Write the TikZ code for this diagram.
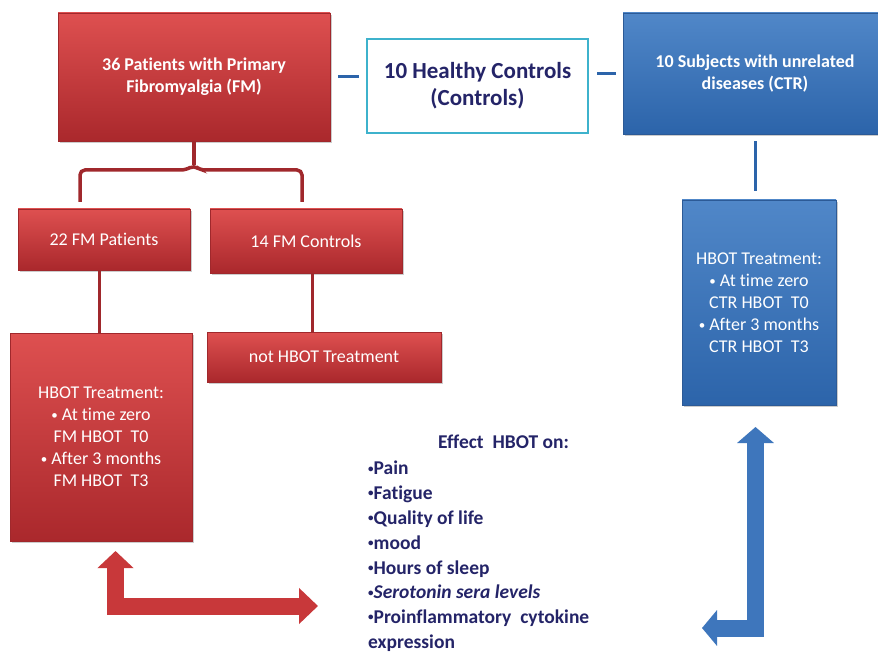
\documentclass[tikz,border=0pt]{standalone}
\usepackage{fontspec}
\setmainfont{Carlito}[Ligatures=NoCommon]
\usetikzlibrary{arrows.meta, shadows, positioning}

\definecolor{fmtop}{RGB}{222,80,80}
\definecolor{fmbot}{RGB}{170,40,44}
\definecolor{fmedge}{RGB}{160,40,44}
\definecolor{fmarrowcol}{RGB}{200,56,58}
\definecolor{ctrtop}{RGB}{80,135,200}
\definecolor{ctrbot}{RGB}{44,100,170}
\definecolor{ctredge}{RGB}{44,90,150}
\definecolor{ctrarrowcol}{RGB}{62,118,188}
\definecolor{hcedge}{RGB}{62,178,204}
\definecolor{navy}{RGB}{36,36,104}

\newcommand{\boxbullet}{{\fontsize{13}{13}\selectfont\raisebox{1.2pt}{\textbullet}}}
\newcommand{\listbullet}{{\fontsize{11}{11}\selectfont\raisebox{2.8pt}{\textbullet}}}

\begin{document}
\begin{tikzpicture}[x=1pt, y=-1pt,
fmbox/.style={rectangle, draw=fmedge, top color=fmtop, bottom color=fmbot, text=white, align=center, inner sep=2pt, font=\fontsize{18}{22}\selectfont, drop shadow={shadow xshift=1.5pt, shadow yshift=-2pt, opacity=0.4}},
ctrbox/.style={fmbox, draw=ctredge, top color=ctrtop, bottom color=ctrbot},
hcbox/.style={rectangle, draw=hcedge, line width=2.5pt, fill=white, text=navy, align=center, font=\fontsize{23}{27}\selectfont\bfseries},
fmline/.style={draw=fmedge, line width=3pt},
ctrline/.style={draw=ctrbot, line width=3pt},
fmarrow/.style={draw=fmarrowcol, line width=17pt, {Triangle[length=17pt,width=35pt]}-{Triangle[length=19pt,width=35pt]}},
ctrarrow/.style={draw=ctrarrowcol, line width=17pt, {Triangle[length=16pt,width=36pt]}-{Triangle[length=15pt,width=35pt]}},
effect/.style={text=navy, inner sep=0pt, font=\fontsize{19.5}{24.8}\selectfont\bfseries},
]
\path[use as bounding box, fill=white] (0,0) rectangle (878,652);

%Nodes
\node[fmbox, font=\fontsize{18}{22}\selectfont\bfseries, minimum width=272pt, minimum height=128pt] (fm) at (194,77) {36 Patients with Primary\\Fibromyalgia (FM)};
\node[hcbox, minimum width=221pt, minimum height=94pt] (hc) at (477.5,86) {10 Healthy Controls\\(Controls)};
\node[ctrbox, font=\fontsize{18}{22}\selectfont\bfseries, minimum width=264pt, minimum height=121pt] (ctr) at (755,73.5) {10 Subjects with unrelated\\diseases (CTR)};

\node[fmbox, minimum width=172pt, minimum height=61pt] (fmpat) at (104,239.5) {22 FM Patients};
\node[fmbox, minimum width=192pt, minimum height=64pt] (fmctl) at (306,241) {14 FM Controls};

\node[fmbox, minimum width=182pt, minimum height=208pt] (fmhbot) at (101,437) {HBOT Treatment:\\\boxbullet\ At time zero\\FM HBOT\ \ T0\\\boxbullet\ After 3 months\\FM HBOT\ \ T3};
\node[fmbox, minimum width=234pt, minimum height=50pt] (nohbot) at (324,357) {not HBOT Treatment};
\node[ctrbox, minimum width=154pt, minimum height=205pt] (ctrhbot) at (759,302.5) {HBOT Treatment:\\\boxbullet\ At time zero\\CTR HBOT\ \ T0\\\boxbullet\ After 3 months\\CTR HBOT\ \ T3};

\node[effect] (efftitle) at (503.5,442) {Effect\ \ HBOT on:};
\node[effect, anchor=north west, align=left] (efflist) at (368,461) {\listbullet Pain\\\listbullet Fatigue\\\listbullet Quality\ of life\\\listbullet mood\\\listbullet Hours\ of sleep\\\listbullet\textit{Serotonin\ sera\ levels}\\\listbullet Proinflammatory\ \ cytokine\\expression};

%Lines
\draw[ctrline, shorten <=8pt, shorten >=7pt] (fm.east) -- (fm.east -| hc.west);
\draw[ctrline, shorten <=8pt, shorten >=7pt] (hc.east |- ctr.west) -- (ctr.west);
\draw[ctrline, shorten <=7pt, shorten >=9pt] (ctr.south) -- (ctr.south |- ctrhbot.north);

\draw[fmline, line width=3.5pt] (fm.south) -- ++(0,24) coordinate (bracetip);
\draw[fmline, line width=3.5pt, rounded corners=5pt] (80,202) -- (80,170) -- (186,170) -- (bracetip) -- (200,170) -- (302,170) -- (302,202);

\draw[fmline, transform canvas={xshift=-5pt}] (fmpat.south) -- (fmpat.south |- fmhbot.north);
\draw[fmline, transform canvas={xshift=6pt}] (fmctl.south) -- (fmctl.south |- nohbot.north);

%Arrows
\coordinate (fmup) at (115.5,551);
\coordinate (fmright) at (318,606);
\draw[fmarrow] (fmup) |- (fmright);

\coordinate (ctrup) at (755.5,427);
\coordinate (ctrleft) at (702,628);
\draw[ctrarrow] (ctrup) |- (ctrleft);

\end{tikzpicture}
\end{document}
